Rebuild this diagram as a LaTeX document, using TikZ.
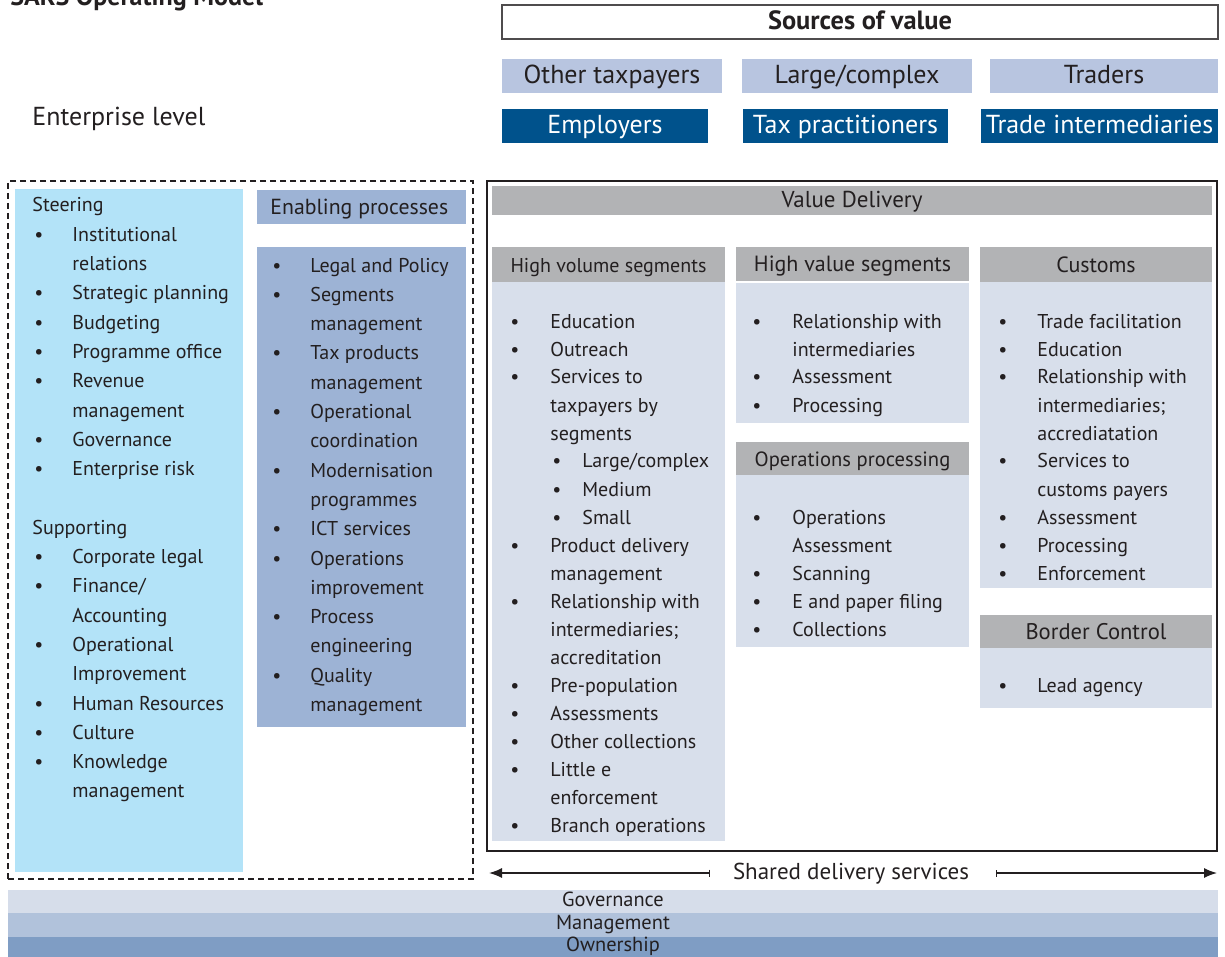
\documentclass[tikz,border=0pt]{standalone}
\usepackage{fontspec}
\setmainfont{PT Sans}
\usetikzlibrary{arrows.meta}

\definecolor{ink}{RGB}{35,31,32}
\definecolor{srclight}{RGB}{184,197,224}
\definecolor{srcdark}{RGB}{0,82,140}
\definecolor{steerfill}{RGB}{179,227,248}
\definecolor{enablefill}{RGB}{157,179,213}
\definecolor{headgrey}{RGB}{178,179,181}
\definecolor{bodyfill}{RGB}{216,223,235}
\definecolor{govfill}{RGB}{214,221,234}
\definecolor{mgmtfill}{RGB}{177,194,219}
\definecolor{ownfill}{RGB}{127,157,196}

% bullets and lists
\newcommand{\bl}{\hspace{1pt}\textbullet}
\newcommand{\sbl}[1]{\makebox[16pt][l]{\hspace{1pt}\textbullet}#1}
\newcommand{\itemlist}[2]{\begin{tabular}[t]{@{}p{#1}@{}l@{}}#2\end{tabular}}
% box from corner to corner (picture pixels)
\newcommand{\panel}[7]{\node[area,#6,minimum width={(#4-#2)*0.5pt},minimum height={(#5-#3)*0.5pt}] (#1) at ({(#2+#4)/2},{(#3+#5)/2}) {#7};}

\begin{document}
\begin{tikzpicture}[x=0.5pt,y=-0.5pt,
  area/.style={inner sep=0pt, outer sep=0pt, text depth=0.05em, text height=0.8em},
  bigtxt/.style={font=\fontsize{13}{15}\selectfont, text=ink},
  headtxt/.style={font=\fontsize{#1}{12}\selectfont, text=ink},
  headtxt/.default=11,
  listA/.style={font=\fontsize{10}{14.65}\selectfont, text=ink, inner sep=0pt, anchor=base west},
  listB/.style={font=\fontsize{10}{14}\selectfont, text=ink, inner sep=0pt, anchor=base west},
  bartxt/.style={font=\fontsize{10.2}{11}\selectfont, text=ink, text height=0.7em, text depth=0.25em},
  sharrow/.style={line width=0.7pt, draw=ink, {Bar[width=3.5pt]}-{Latex[length=6.5pt,width=5pt]}}]
\useasboundingbox (0,0) rectangle (1225,957);

% title and enterprise level
\node[anchor=base west, inner sep=0pt, text=ink, font=\fontsize{13}{15}\selectfont\bfseries] (title) at (10,6) {SARS Operating Model};
\node[bigtxt, anchor=west, inner sep=0pt] (entlevel) at (32,119) {Enterprise level};

% sources of value
\panel{sources}{502}{5}{1218}{39}{draw=ink!80, line width=0.8pt, text=ink, font=\fontsize{13.2}{15}\selectfont\bfseries}{Sources of value}
\panel{othertax}{502}{59}{722}{93}{bigtxt, fill=srclight}{Other taxpayers}
\panel{largecx}{742}{59}{972}{93}{bigtxt, fill=srclight}{Large/complex}
\panel{traders}{990}{59}{1218}{93}{bigtxt, fill=srclight}{Traders}
\panel{employers}{502}{109}{708}{143}{bigtxt, fill=srcdark, text=white}{Employers}
\panel{taxprac}{743}{109}{948}{143}{bigtxt, fill=srcdark, text=white}{Tax practitioners}
\panel{tradeint}{981}{109}{1218}{143}{bigtxt, fill=srcdark, text=white}{Trade intermediaries}

% enterprise support (dashed)
\panel{support}{8}{181}{473}{879}{draw=ink, line width=0.75pt, dash pattern=on 3pt off 2pt}{}
\panel{steering}{15}{189}{243}{872}{fill=steerfill}{}
\panel{enabhead}{257}{190}{466}{224}{fill=enablefill}{}
\node[headtxt=10.9, anchor=west, inner sep=0pt] (enabtxt) at (270,209) {Enabling processes};
\panel{enabbody}{257}{247}{466}{727}{fill=enablefill}{}

\node[listA] (steerlist) at (32,212) {\itemlist{20pt}{%
  \multicolumn{2}{@{}l@{}}{Steering}\\
  \bl & Institutional\\ & relations\\
  \bl & Strategic planning\\
  \bl & Budgeting\\
  \bl & Programme office\\
  \bl & Revenue\\ & management\\
  \bl & Governance\\
  \bl & Enterprise risk\\
  & \\
  \multicolumn{2}{@{}l@{}}{Supporting}\\
  \bl & Corporate legal\\
  \bl & Finance/\\ & Accounting\\
  \bl & Operational\\ & Improvement\\
  \bl & Human Resources\\
  \bl & Culture\\
  \bl & Knowledge\\ & management}};

\node[listA] (enablist) at (270,272) {\itemlist{20pt}{%
  \bl & Legal and Policy\\
  \bl & Segments\\ & management\\
  \bl & Tax products\\ & management\\
  \bl & Operational\\ & coordination\\
  \bl & Modernisation\\ & programmes\\
  \bl & ICT services\\
  \bl & Operations\\ & improvement\\
  \bl & Process\\ & engineering\\
  \bl & Quality\\ & management}};

% value delivery
\panel{valframe}{487}{181}{1217}{851}{draw=ink, line width=0.75pt}{}
\panel{valdel}{492}{186}{1212}{215}{headtxt=11.5, fill=headgrey}{Value Delivery}

\panel{hvolhead}{492}{247}{725}{282}{headtxt=10, fill=headgrey}{High volume segments}
\panel{hvolbody}{492}{282}{725}{841}{fill=bodyfill}{}
\panel{hvalhead}{736}{247}{969}{281}{headtxt=11, fill=headgrey}{High value segments}
\panel{hvalbody}{736}{283}{969}{423}{fill=bodyfill}{}
\panel{opshead}{736}{442}{969}{475}{headtxt=10.3, fill=headgrey}{Operations processing}
\panel{opsbody}{736}{475}{969}{647}{fill=bodyfill}{}
\panel{custhead}{980}{247}{1212}{282}{headtxt=11, fill=headgrey}{Customs}
\panel{custbody}{980}{282}{1212}{588}{fill=bodyfill}{}
\panel{borderhead}{980}{615}{1212}{648}{headtxt=11.3, fill=headgrey}{Border Control}
\panel{borderbody}{980}{648}{1212}{708}{fill=bodyfill}{}

\node[listB] (hvollist) at (508,328) {\itemlist{21pt}{%
  \bl & Education\\
  \bl & Outreach\\
  \bl & Services to\\ & taxpayers by\\ & segments\\
  & \sbl{Large/complex}\\
  & \sbl{Medium}\\
  & \sbl{Small}\\
  \bl & Product delivery\\ & management\\
  \bl & Relationship with\\ & intermediaries;\\ & accreditation\\
  \bl & Pre-population\\
  \bl & Assessments\\
  \bl & Other collections\\
  \bl & Little e\\ & enforcement\\
  \bl & Branch operations}};

\node[listB] (hvallist) at (750,328) {\itemlist{21pt}{%
  \bl & Relationship with\\ & intermediaries\\
  \bl & Assessment\\
  \bl & Processing}};

\node[listB] (opslist) at (750,524) {\itemlist{21pt}{%
  \bl & Operations\\ & Assessment\\
  \bl & Scanning\\
  \bl & E and paper filing\\
  \bl & Collections}};

\node[listB] (custlist) at (996,328) {\itemlist{20.5pt}{%
  \bl & Trade facilitation\\
  \bl & Education\\
  \bl & Relationship with\\ & intermediaries;\\ & accrediatation\\
  \bl & Services to\\ & customs payers\\
  \bl & Assessment\\
  \bl & Processing\\
  \bl & Enforcement}};

\node[listB] (borderlist) at (996,692) {\itemlist{20.5pt}{%
  \bl & Lead agency}};

% shared delivery services
\node[font=\fontsize{11.5}{14}\selectfont, text=ink, inner sep=0pt] (shared) at (851,874) {Shared delivery services};
\coordinate (sdL) at (710,873);
\coordinate (sdLend) at (489,873);
\coordinate (sdR) at (996,873);
\coordinate (sdRend) at (1217,873);
\draw[sharrow] (sdL) -- (sdLend);
\draw[sharrow] (sdR) -- (sdRend);

% bottom layers
\panel{gov}{8}{890}{1218}{913}{fill=govfill, bartxt}{Governance}
\panel{mgmt}{8}{913}{1218}{937}{fill=mgmtfill, bartxt}{Management}
\panel{own}{8}{937}{1218}{957}{fill=ownfill, bartxt}{Ownership}
\end{tikzpicture}
\end{document}
